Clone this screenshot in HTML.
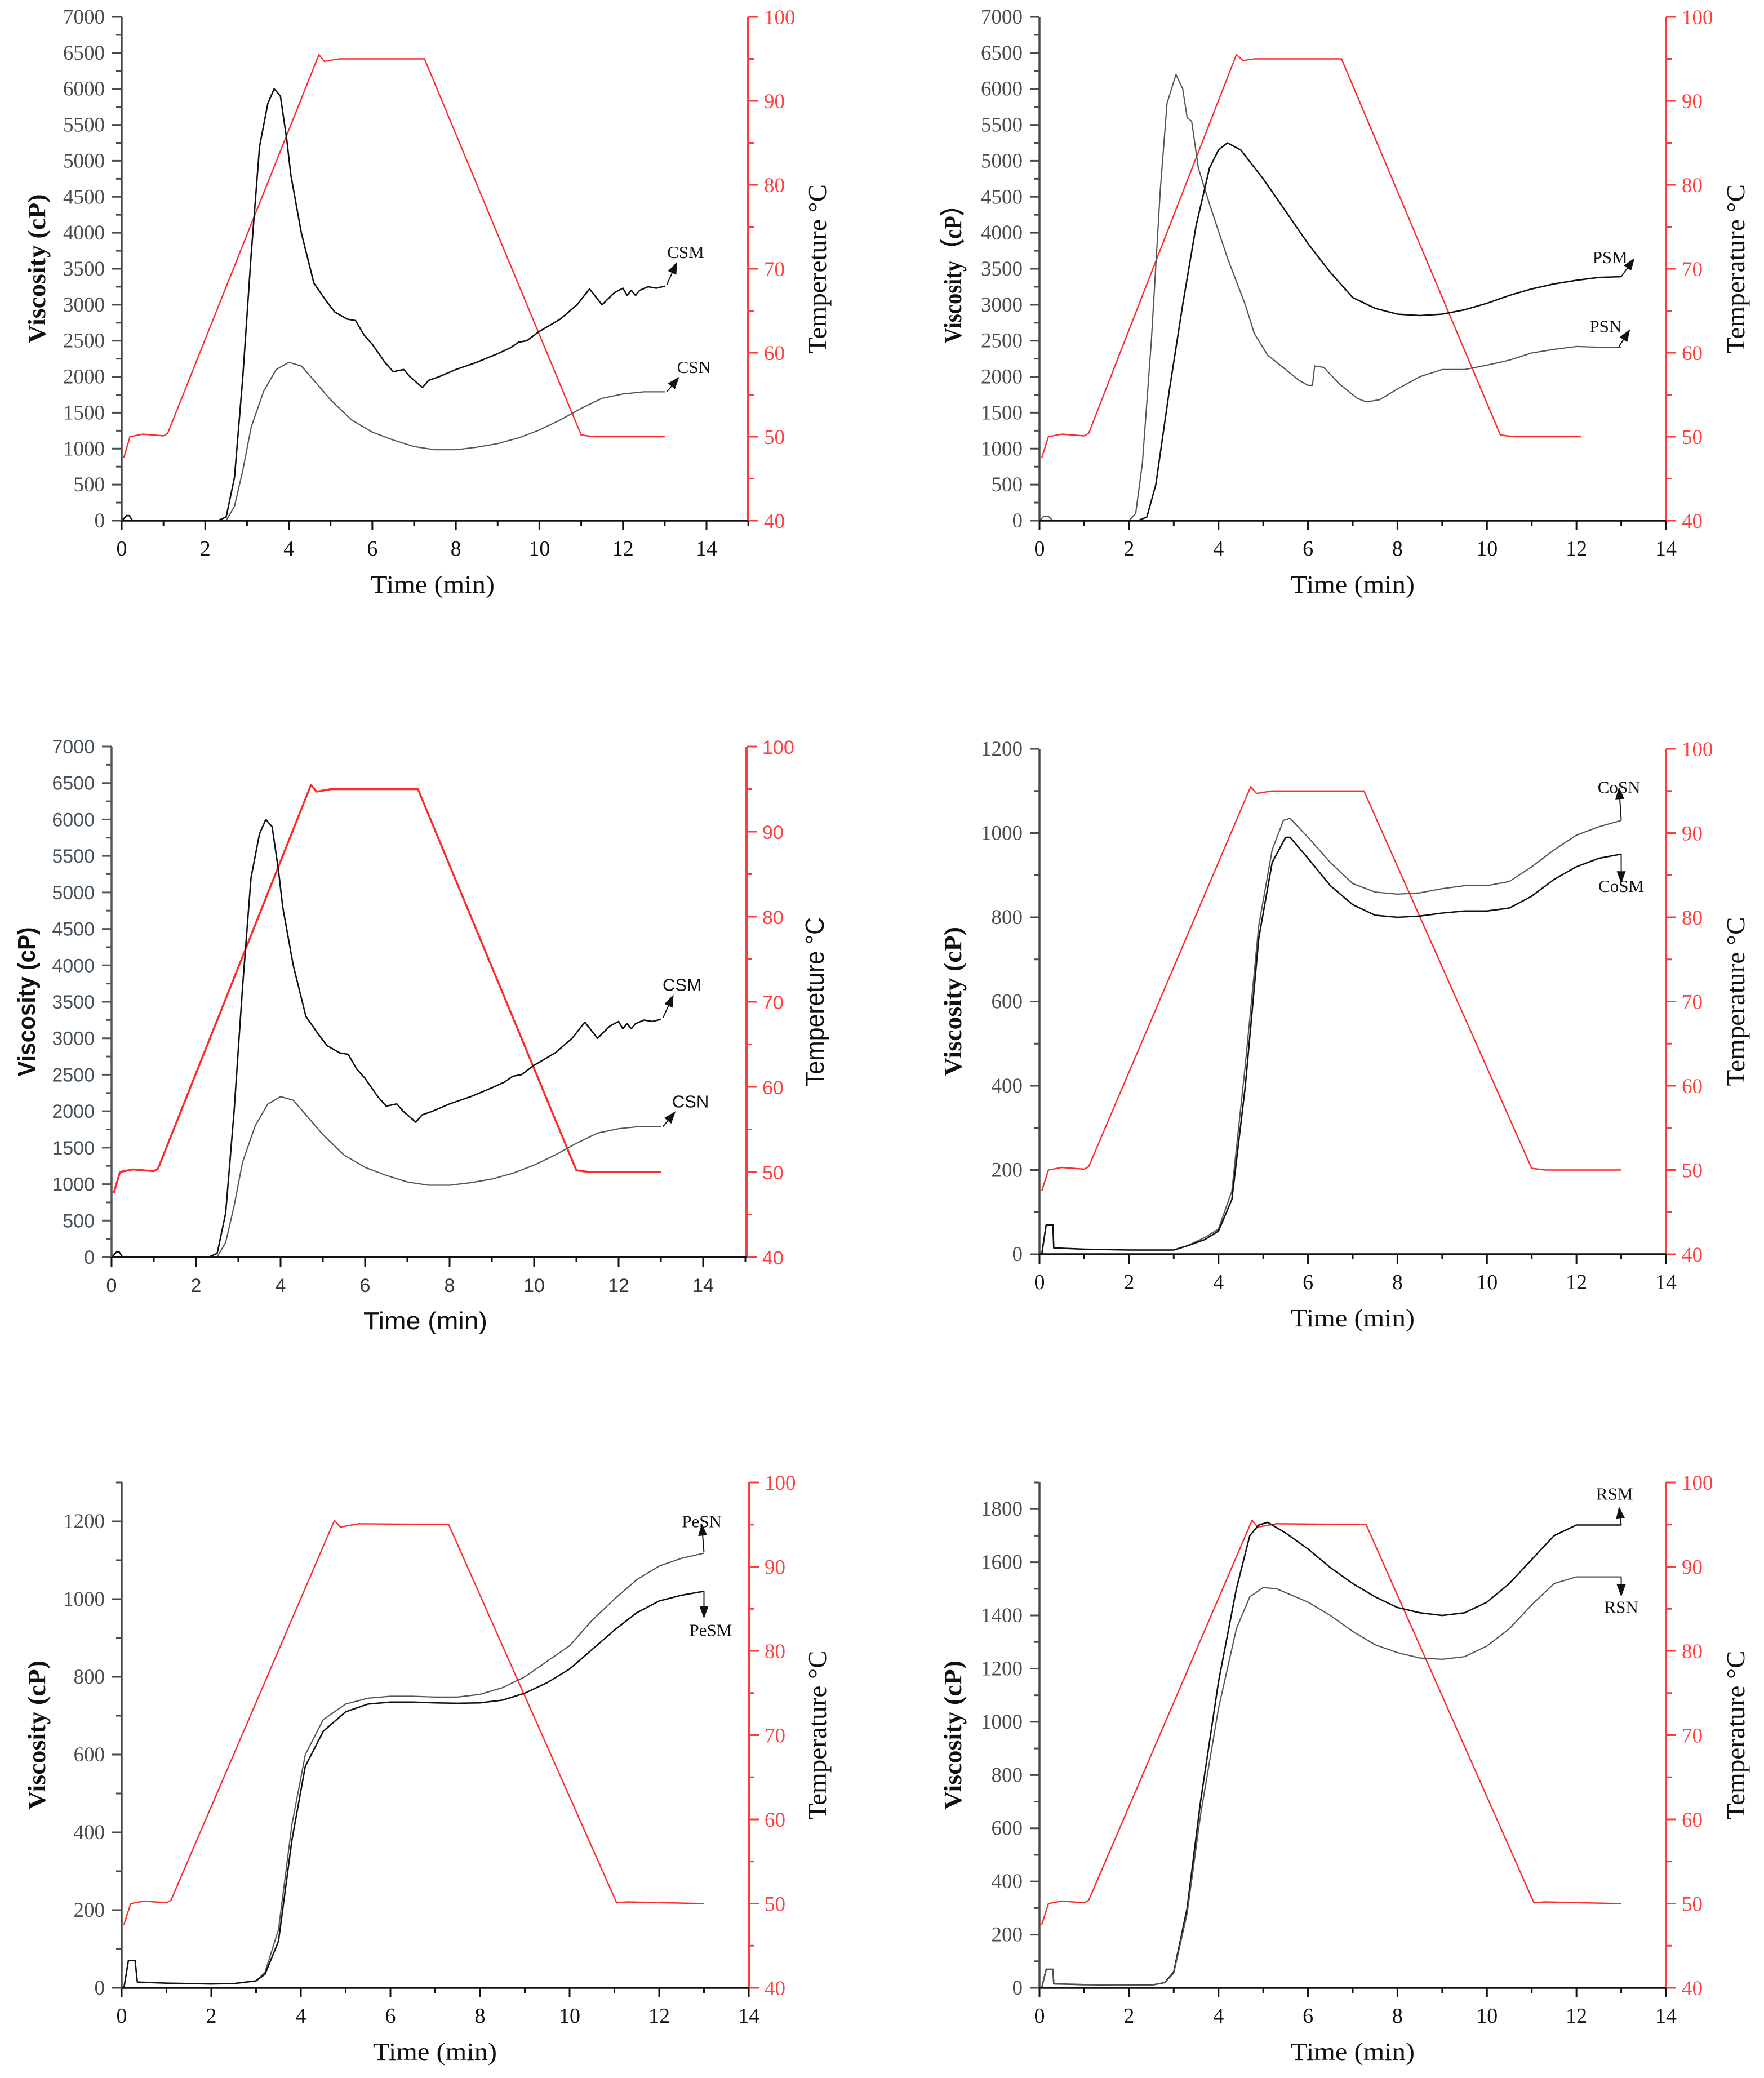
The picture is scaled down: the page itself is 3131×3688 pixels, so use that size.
<!DOCTYPE html>
<html><head><meta charset="utf-8"><title>RVA pasting curves</title>
<style>html,body{margin:0;padding:0;background:#fff}svg{display:block}</style></head>
<body>
<svg id="fig" xmlns="http://www.w3.org/2000/svg" width="3131" height="3688" viewBox="0 0 3131 3688"></svg>
<script>
// ---------- DATA ----------
const csmT=[0,0.12,0.18,0.26,0.32,1,2,2.3,2.5,2.7,2.9,3.1,3.3,3.5,3.65,3.8,3.95,4.05,4.3,4.6,4.9,5.1,5.4,5.6,5.8,6.0,6.3,6.5,6.75,6.9,7.2,7.35,7.6,8.0,8.5,9.0,9.3,9.5,9.7,10,10.5,10.9,11.2,11.5,11.8,12.0,12.1,12.2,12.3,12.4,12.6,12.8,13];
const csmV=[0,70,70,0,0,0,0,0,50,600,2000,3700,5200,5800,6000,5900,5300,4800,4000,3300,3050,2900,2800,2780,2580,2450,2200,2070,2100,2000,1850,1950,2000,2100,2200,2320,2400,2480,2500,2630,2800,3000,3220,3000,3170,3230,3130,3200,3130,3200,3250,3230,3260];
const csnT=[0,2.5,2.7,2.9,3.1,3.4,3.7,4.0,4.3,4.6,5,5.5,6,6.5,7,7.5,8,8.5,9,9.5,10,10.5,11,11.5,12,12.5,13];
const csnV=[0,0,200,700,1300,1800,2100,2200,2150,1950,1680,1400,1230,1120,1030,985,985,1020,1070,1150,1260,1400,1560,1700,1760,1790,1790];
const temp1T=[0.05,0.2,0.5,1.0,1.1,4.72,4.85,5.2,7.25,11.0,11.3,13];
const temp1V=[47.5,50,50.3,50.1,50.4,95.5,94.7,95,95,50.2,50,50];
const psnT=[0,0.1,0.2,0.3,2.0,2.15,2.3,2.5,2.7,2.85,3.05,3.2,3.3,3.4,3.55,3.8,4.2,4.6,4.8,5.1,5.4,5.8,6.0,6.1,6.15,6.35,6.7,7.1,7.3,7.6,8,8.5,9,9.5,10,10.5,11,11.5,12,12.5,13];
const psnV=[0,60,60,0,0,100,800,2500,4600,5800,6200,6000,5600,5550,4900,4400,3650,3000,2600,2300,2150,1950,1880,1880,2150,2130,1900,1700,1650,1680,1830,2000,2100,2100,2160,2230,2330,2380,2420,2410,2410];
const psmT=[0,2.2,2.4,2.6,2.9,3.2,3.5,3.8,4.0,4.2,4.5,5.0,5.5,6,6.5,7,7.5,8,8.5,9,9.5,10,10.5,11,11.5,12,12.5,13];
const psmV=[0,0,50,500,1800,3000,4100,4900,5150,5250,5150,4750,4300,3850,3450,3100,2950,2870,2850,2870,2930,3020,3130,3220,3290,3340,3380,3390];
const temp2T=[0.05,0.2,0.5,1.0,1.1,4.4,4.55,4.8,6.75,10.3,10.6,12.1];
const temp2V=[47.5,50,50.3,50.1,50.4,95.5,94.8,95,95,50.2,50,50];
const cosnT=[0.05,0.15,0.3,0.32,1,2,3,3.3,3.7,4.0,4.3,4.6,4.9,5.2,5.45,5.6,6,6.5,7,7.5,8,8.5,9,9.5,10,10.5,11,11.5,12,12.5,13];
const cosnV=[0,70,70,15,12,10,10,20,40,60,150,450,780,960,1030,1035,990,930,880,860,855,858,868,875,875,885,920,960,995,1015,1030];
const cosmT=[0.05,0.15,0.3,0.32,1,2,3,3.3,3.7,4.0,4.3,4.6,4.9,5.2,5.5,5.6,6,6.5,7,7.5,8,8.5,9,9.5,10,10.5,11,11.5,12,12.5,13];
const cosmV=[0,70,70,15,12,10,10,20,35,55,130,400,750,930,990,990,940,875,830,805,800,803,810,815,815,822,850,890,920,940,950];
const temp4T=[0.05,0.2,0.5,1.0,1.1,4.72,4.85,5.2,7.25,11.0,11.3,13];
const temp4V=[47.5,50,50.3,50.1,50.4,95.5,94.7,95,95,50.2,50,50];
const pesnT=[0.05,0.15,0.3,0.35,1,2,2.5,3,3.2,3.5,3.8,4.1,4.5,5,5.5,6,6.5,7,7.5,8,8.5,9,9.5,10,10.5,11,11.5,12,12.5,13];
const pesnV=[0,70,70,15,12,10,11,18,40,150,420,600,690,730,745,750,750,748,748,755,772,800,840,880,945,1000,1050,1085,1105,1118];
const pesmT=[0.05,0.15,0.3,0.35,1,2,2.5,3,3.2,3.5,3.8,4.1,4.5,5,5.5,6,6.5,7,7.5,8,8.5,9,9.5,10,10.5,11,11.5,12,12.5,13];
const pesmV=[0,70,70,15,12,10,11,18,35,120,380,570,660,710,730,735,735,733,732,733,740,758,785,820,870,920,965,995,1010,1020];
const temp5T=[0.05,0.2,0.5,1.0,1.1,4.75,4.88,5.3,7.3,11.05,11.3,13];
const temp5V=[47.5,50,50.3,50.1,50.4,95.5,94.7,95.1,95,50.1,50.2,50];
const rsmT=[0.05,0.15,0.3,0.32,1,2,2.5,2.8,3,3.3,3.6,4,4.4,4.7,4.9,5.1,5.5,6,6.5,7,7.5,8,8.5,9,9.5,10,10.5,11,11.5,12,12.5,13];
const rsmV=[0,70,70,15,12,10,10,20,60,300,700,1150,1500,1700,1740,1750,1710,1650,1580,1520,1470,1430,1410,1400,1410,1450,1520,1610,1700,1740,1740,1740];
const rsnT=[0.05,0.15,0.3,0.32,1,2,2.5,2.8,3,3.3,3.6,4,4.4,4.7,5,5.3,6,6.5,7,7.5,8,8.5,9,9.5,10,10.5,11,11.5,12,12.5,13];
const rsnV=[0,70,70,15,12,10,10,20,55,280,650,1050,1350,1470,1505,1500,1450,1400,1340,1290,1260,1240,1235,1245,1285,1350,1440,1520,1545,1545,1545];
const temp6T=[0.05,0.2,0.5,1.0,1.1,4.75,4.88,5.3,7.3,11.05,11.3,13];
const temp6V=[47.5,50,50.3,50.1,50.4,95.5,94.7,95.1,95,50.1,50.2,50];
const xTicks=[0,2,4,6,8,10,12,14];
const tempTicks=[40,50,60,70,80,90,100];

// ---------- DRAW ----------
const NS='http://www.w3.org/2000/svg';
const svg=document.getElementById('fig');
function mk(tag,attrs,parent){const e=document.createElementNS(NS,tag);for(const k in attrs)e.setAttribute(k,attrs[k]);(parent||svg).appendChild(e);return e;}

function panel(c){
  const g=mk('g',{});
  
  
  const sx=t=>c.x0+t*(c.x14-c.x0)/14;
  const sy=v=>c.yb-v*(c.yb-c.yt)/c.vtop;
  const st=T=>c.yb-(T-40)*(c.yb-c.yt)/60;
  const ff=c.sans?'"Liberation Sans", sans-serif':'"Liberation Serif", "DejaVu Serif", serif';
  const axisCol=c.sans?'#555':'#4a4a4a';
  function line(ts,vs,fy,col,w,nm){
    let d='';ts.forEach((t,i)=>{d+=(i?'L':'M')+sx(t).toFixed(1)+' '+fy(vs[i]).toFixed(1);});
    const p=mk('path',{d:d,fill:'none',stroke:col,'stroke-width':w,'stroke-linejoin':'round'},g);
    
    
  }
  line(c.tempT,c.tempV,st,'#ff2b2b',c.sans?3.5:2.4,'temperature-line');
  c.series.forEach(s=>line(s.t,s.v,sy,s.col,s.w,s.name+'-line'));
  const la=mk('line',{x1:c.x0,y1:c.yt,x2:c.x0,y2:c.yb,stroke:axisCol,'stroke-width':3.5},g);
  
  
  for(let v=0;v<=c.vtop+0.001;v+=c.minor){
    const major=Math.abs(v/c.major-Math.round(v/c.major))<1e-6;
    mk('line',{x1:c.x0-(major?17:10),y1:sy(v),x2:c.x0,y2:sy(v),stroke:axisCol,'stroke-width':3},g);
    if(major&&v<=c.vmaxLabel){
      const t=mk('text',{x:c.x0-30,y:sy(v)+12,'text-anchor':'end','font-family':ff,'font-size':c.sans?34:37,fill:c.sans?'#46505a':'#4a4a4a'},g);
      t.textContent=String(v);
      
      
    }
  }
  const ra=mk('line',{x1:c.xr,y1:c.yt,x2:c.xr,y2:c.yb,stroke:'#ff3b3b','stroke-width':4},g);
  
  
  for(let T=40;T<=100;T+=5){
    const major=T%10===0;
    mk('line',{x1:c.xr,y1:st(T),x2:c.xr+(major?18:10),y2:st(T),stroke:'#ff3b3b','stroke-width':3},g);
  }
  tempTicks.forEach(T=>{
    const t=mk('text',{x:c.xr+28,y:st(T)+13,'font-family':ff,'font-size':c.sans?34:37,fill:'#ff4040'},g);
    t.textContent=String(T);
    
    
  });
  const xa=mk('line',{x1:c.x0,y1:c.yb,x2:c.xr,y2:c.yb,stroke:'#111','stroke-width':3.5},g);
  
  
  for(let i=0;i<=c.xmax;i++){mk('line',{x1:sx(i),y1:c.yb,x2:sx(i),y2:c.yb+(i%2?9:17),stroke:'#111','stroke-width':3},g);}
  xTicks.forEach(v=>{
    const t=mk('text',{x:sx(v),y:c.yb+62,'text-anchor':'middle','font-family':ff,'font-size':c.sans?34:38,fill:c.sans?'#333':'#111'},g);
    t.textContent=String(v);
    
    
  });
  const cy=(c.yt+c.yb)/2;
  const yt=mk('text',{x:0,y:0,transform:`translate(${c.ytx},${cy}) rotate(-90)`,'text-anchor':'middle','font-family':ff,'font-size':44,'font-weight':'bold',fill:'#111',textLength:265,lengthAdjust:'spacingAndGlyphs'},g);
  yt.textContent=c.vis;
  
  
  const tt=mk('text',{x:0,y:0,transform:`translate(${c.ttx},${cy}) rotate(-90)`,'text-anchor':'middle','font-family':ff,'font-size':46,fill:'#111',textLength:300,lengthAdjust:'spacingAndGlyphs'},g);
  tt.textContent=c.tempTitle;
  
  
  const xt=mk('text',{x:c.xtx,y:c.yb+128,'text-anchor':'middle','font-family':ff,'font-size':44,fill:'#111',textLength:220,lengthAdjust:'spacingAndGlyphs'},g);
  xt.textContent='Time (min)';
  
  
  c.notes.forEach(n=>{
    const t=mk('text',{x:sx(n.tx),y:sy(n.vy),'text-anchor':'middle','font-family':ff,'font-size':31,fill:'#111'},g);
    t.textContent=n.label;
    
    
    const x1=sx(n.a[0]),y1=sy(n.a[1]),x2=sx(n.a[2]),y2=sy(n.a[3]);
    const ang=Math.atan2(y2-y1,x2-x1),L=22,W=8;
    const bx=x2-L*Math.cos(ang),by=y2-L*Math.sin(ang);
    mk('line',{x1:x1,y1:y1,x2:bx,y2:by,stroke:'#111','stroke-width':2},g);
    const ar=mk('polygon',{points:`${x2},${y2} ${bx+W*Math.sin(ang)},${by-W*Math.cos(ang)} ${bx-W*Math.sin(ang)},${by+W*Math.cos(ang)}`,fill:'#111'},g);
    
    
  });
}

const csSeries=[{t:csmT,v:csmV,col:'#111',w:2.6,name:'csm'},{t:csnT,v:csnV,col:'#555',w:2.2,name:'csn'}];
const csNotes=[{label:'CSM',tx:13.5,vy:3650,a:[13.05,3280,13.3,3600]},{label:'CSN',tx:13.7,vy:2050,a:[13.05,1790,13.35,2000]}];
panel({name:'panel-csm-csn',x0:216,x14:1254,xr:1328,xmax:15,yt:30,yb:924,vtop:7000,vmaxLabel:7000,major:500,minor:250,
  series:csSeries,tempT:temp1T,tempV:temp1V,vis:'Viscosity (cP)',tempTitle:'Tempereture °C',ytx:80,ttx:1466,xtx:768,notes:csNotes});
panel({name:'panel-psm-psn',x0:1845,x14:2957,xr:2957,xmax:14,yt:30,yb:924,vtop:7000,vmaxLabel:7000,major:500,minor:250,
  series:[{t:psnT,v:psnV,col:'#555',w:2.2,name:'psn'},{t:psmT,v:psmV,col:'#111',w:2.6,name:'psm'}],
  tempT:temp2T,tempV:temp2V,vis:'Viscosity（cP）',tempTitle:'Temperature °C',ytx:1706,ttx:3096,xtx:2401,
  notes:[{label:'PSM',tx:12.75,vy:3580,a:[13.0,3390,13.3,3650]},{label:'PSN',tx:12.65,vy:2620,a:[12.95,2420,13.2,2660]}]});
panel({name:'panel-csm-csn-copy',sans:true,x0:198,x14:1248,xr:1325,xmax:15,yt:1325,yb:2231,vtop:7000,vmaxLabel:7000,major:500,minor:250,
  series:csSeries,tempT:temp1T,tempV:temp1V,vis:'Viscosity (cP)',tempTitle:'Tempereture °C',ytx:62,ttx:1462,xtx:755,notes:csNotes});
panel({name:'panel-cosn-cosm',x0:1845,x14:2957,xr:2957,xmax:14,yt:1329,yb:2226,vtop:1200,vmaxLabel:1200,major:200,minor:100,
  series:[{t:cosnT,v:cosnV,col:'#555',w:2.2,name:'cosn'},{t:cosmT,v:cosmV,col:'#111',w:2.6,name:'cosm'}],
  tempT:temp4T,tempV:temp4V,vis:'Viscosity (cP)',tempTitle:'Temperature °C',ytx:1706,ttx:3096,xtx:2401,
  notes:[{label:'CoSN',tx:12.95,vy:1095,a:[13.0,1030,12.95,1110]},{label:'CoSM',tx:13.0,vy:860,a:[13.0,950,13.0,880]}]});
panel({name:'panel-pesn-pesm',x0:216,x14:1329,xr:1329,xmax:14,yt:2631,yb:3528,vtop:1300,vmaxLabel:1200,major:200,minor:100,
  series:[{t:pesnT,v:pesnV,col:'#555',w:2.2,name:'pesn'},{t:pesmT,v:pesmV,col:'#111',w:2.6,name:'pesm'}],
  tempT:temp5T,tempV:temp5V,vis:'Viscosity (cP)',tempTitle:'Temperature °C',ytx:80,ttx:1466,xtx:772,
  notes:[{label:'PeSN',tx:12.95,vy:1185,a:[13.0,1120,12.95,1195]},{label:'PeSM',tx:13.15,vy:905,a:[13.0,1020,13.0,950]}]});
panel({name:'panel-rsm-rsn',x0:1845,x14:2957,xr:2957,xmax:14,yt:2631,yb:3528,vtop:1900,vmaxLabel:1800,major:200,minor:100,
  series:[{t:rsmT,v:rsmV,col:'#111',w:2.6,name:'rsm'},{t:rsnT,v:rsnV,col:'#555',w:2.2,name:'rsn'}],
  tempT:temp6T,tempV:temp6V,vis:'Viscosity (cP)',tempTitle:'Temperature °C',ytx:1706,ttx:3096,xtx:2401,
  notes:[{label:'RSM',tx:12.85,vy:1835,a:[13.0,1740,12.95,1810]},{label:'RSN',tx:13.0,vy:1410,a:[13.0,1545,13.0,1470]}]});
</script>
</body></html>
